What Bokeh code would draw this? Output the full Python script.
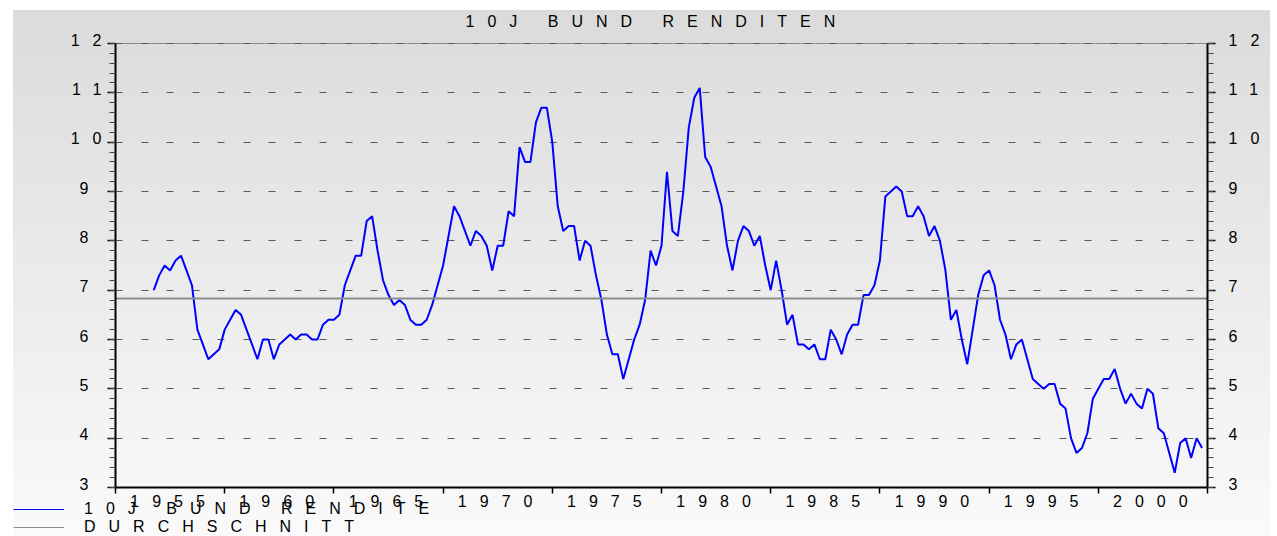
import pandas as pd
from bokeh.plotting import figure
from bokeh.models import Range1d, FixedTicker, LinearAxis, Legend, LegendItem, Grid
from bokeh.embed import file_html
from bokeh.resources import INLINE

# ---------------- data ----------------
title_text = "10J BUND RENDITEN"
series_label = "10J BUND RENDITE"
mean_label = "DURCHSCHNITT"

first_quarter = "1954Q4"          # first quarterly observation
yields = [
    7.0, 7.3, 7.5, 7.4, 7.6, 7.7, 7.4, 7.1, 6.2, 5.9,
    5.6, 5.7, 5.8, 6.2, 6.4, 6.6, 6.5, 6.2, 5.9, 5.6,
    6.0, 6.0, 5.6, 5.9, 6.0, 6.1, 6.0, 6.1, 6.1, 6.0,
    6.0, 6.3, 6.4, 6.4, 6.5, 7.1, 7.4, 7.7, 7.7, 8.4,
    8.5, 7.8, 7.2, 6.9, 6.7, 6.8, 6.7, 6.4, 6.3, 6.3,
    6.4, 6.7, 7.1, 7.5, 8.1, 8.7, 8.5, 8.2, 7.9, 8.2,
    8.1, 7.9, 7.4, 7.9, 7.9, 8.6, 8.5, 9.9, 9.6, 9.6,
    10.4, 10.7, 10.7, 10.0, 8.7, 8.2, 8.3, 8.3, 7.6, 8.0,
    7.9, 7.3, 6.8, 6.1, 5.7, 5.7, 5.2, 5.6, 6.0, 6.3,
    6.8, 7.8, 7.5, 7.9, 9.4, 8.2, 8.1, 9.0, 10.3, 10.9,
    11.1, 9.7, 9.5, 9.1, 8.7, 7.9, 7.4, 8.0, 8.3, 8.2,
    7.9, 8.1, 7.5, 7.0, 7.6, 7.0, 6.3, 6.5, 5.9, 5.9,
    5.8, 5.9, 5.6, 5.6, 6.2, 6.0, 5.7, 6.1, 6.3, 6.3,
    6.9, 6.9, 7.1, 7.6, 8.9, 9.0, 9.1, 9.0, 8.5, 8.5,
    8.7, 8.5, 8.1, 8.3, 8.0, 7.4, 6.4, 6.6, 6.0, 5.5,
    6.2, 6.9, 7.3, 7.4, 7.1, 6.4, 6.1, 5.6, 5.9, 6.0,
    5.6, 5.2, 5.1, 5.0, 5.1, 5.1, 4.7, 4.6, 4.0, 3.7,
    3.8, 4.1, 4.8, 5.0, 5.2, 5.2, 5.4, 5.0, 4.7, 4.9,
    4.7, 4.6, 5.0, 4.9, 4.2, 4.1, 3.7, 3.3, 3.9, 4.0,
    3.6, 4.0, 3.8,
]
year_labels = ["1955", "1960", "1965", "1970", "1975",
               "1980", "1985", "1990", "1995", "2000"]
y_ticks = [3, 4, 5, 6, 7, 8, 9, 10, 11, 12]

# ---------------- derived ----------------
periods = pd.period_range(first_quarter, periods=len(yields), freq="Q")
dates = [pr.year + (pr.quarter - 1) / 4.0 for pr in periods]
mean_value = sum(yields) / len(yields)

y_lo, y_hi = y_ticks[0], y_ticks[-1]
x_start, x_end = 1953, 2003
label_shift = -0.51
label_pos = [int(s) + label_shift for s in year_labels]
segment_marks = list(range(x_start, x_end + 1, 5))
y_minor = [round(y_lo + 0.2 * k, 1) for k in range(46)]

# layout (pixels)
W, H = 1277, 536
FRAME_L, FRAME_R, FRAME_T, FRAME_B = 115, 1207, 43, 487
TOP_PAD_PX = 4                      # room above 12 so its label can sit on its tick
px_per_unit = (FRAME_B - FRAME_T) / (y_hi - y_lo)
top_pad = TOP_PAD_PX / px_per_unit
label_lift = 0.08                   # y labels sit on their tick, like the original
y_label_pos = [t + label_lift for t in y_ticks]

FONT = "Liberation Sans"
FS = "16px"
SPACING = "13px"
BLUE = "#0000ff"
GRAY = "#8c8c8c"
DASH_COLOR = "#5a5a5a"
DASH = "7 19 7 18"

p = figure(width=W, height=H,
           x_range=Range1d(x_start, x_end), y_range=Range1d(y_lo, y_hi + top_pad),
           output_backend="svg", toolbar_location=None,
           min_border_left=FRAME_L, min_border_right=W - FRAME_R,
           min_border_top=FRAME_T - TOP_PAD_PX, min_border_bottom=H - FRAME_B)

p.background_fill_color = None
p.border_fill_color = None
p.outline_line_color = None
p.styles = {
    "background-image": "linear-gradient(to bottom, #dbdbdb, #fafafa)",
    "background-position": "13px 10px",
    "background-size": "1257px calc(100% - 10px)",
    "background-repeat": "no-repeat",
    "letter-spacing": SPACING,
}

# title
p.title.text = title_text
p.title.align = "left"
p.title.offset = 350
p.title.text_font = FONT
p.title.text_font_size = FS
p.title.text_font_style = "normal"
p.title.text_color = "black"
p.title.standoff = 19

# grid: dashed lines, plus a solid grey top border with dashes over it
p.xgrid.visible = False
p.ygrid.ticker = FixedTicker(ticks=y_ticks[1:-1])
p.ygrid.grid_line_color = DASH_COLOR
p.ygrid.grid_line_width = 1
p.ygrid.grid_line_dash = DASH
p.add_layout(Grid(dimension=1, ticker=FixedTicker(ticks=[y_hi]),
                  grid_line_color=GRAY, grid_line_width=1))
p.add_layout(Grid(dimension=1, ticker=FixedTicker(ticks=[y_hi]),
                  grid_line_color=DASH_COLOR, grid_line_width=1,
                  grid_line_dash=DASH))

# series
r_line = p.line(dates, yields, line_color=BLUE, line_width=2)
r_mean = p.hspan(y=[mean_value], line_color=GRAY, line_width=2)


def style_tick_axis(ax):
    ax.ticker = FixedTicker(ticks=y_ticks, minor_ticks=y_minor)
    ax.bounds = (y_lo, y_hi)
    ax.axis_line_color = "black"
    ax.axis_line_width = 2
    ax.major_tick_in = 0
    ax.major_tick_out = 8
    ax.major_tick_line_color = "black"
    ax.major_tick_line_width = 1.5
    ax.minor_tick_in = 0
    ax.minor_tick_out = 6
    ax.minor_tick_line_color = "#444444"
    ax.minor_tick_line_width = 1
    ax.major_label_overrides = {t: "" for t in y_ticks}
    ax.major_label_standoff = 0
    ax.major_label_text_font_size = FS


def make_label_axis(standoff):
    ax = LinearAxis(ticker=FixedTicker(ticks=y_label_pos))
    ax.major_label_overrides = {pos: str(t) for pos, t in zip(y_label_pos, y_ticks)}
    ax.axis_line_color = None
    ax.major_tick_line_color = None
    ax.minor_tick_line_color = None
    ax.major_tick_in = 0
    ax.major_tick_out = 0
    ax.minor_tick_in = 0
    ax.minor_tick_out = 0
    ax.major_label_standoff = standoff
    ax.major_label_text_font = FONT
    ax.major_label_text_font_size = FS
    ax.major_label_text_color = "black"
    return ax


style_tick_axis(p.yaxis[0])
p.add_layout(make_label_axis(19), "left")

right_ticks = LinearAxis()
style_tick_axis(right_ticks)
p.add_layout(right_ticks, "right")
p.add_layout(make_label_axis(13), "right")

xa = p.xaxis[0]
xa.ticker = FixedTicker(ticks=label_pos, minor_ticks=segment_marks)
xa.major_label_overrides = {pos: lab for pos, lab in zip(label_pos, year_labels)}
xa.axis_line_color = "black"
xa.axis_line_width = 2
xa.major_tick_in = 0
xa.major_tick_out = 0
xa.minor_tick_in = 0
xa.minor_tick_out = 6
xa.minor_tick_line_color = "black"
xa.minor_tick_line_width = 1.5
xa.major_label_standoff = 1
xa.major_label_text_font = FONT
xa.major_label_text_font_size = FS
xa.major_label_text_color = "black"

# ---------------- legend strip laid over the bottom-left corner ----------------
LEG_H = 44
q = figure(width=480, height=LEG_H, x_range=Range1d(0, 1), y_range=Range1d(0, 1),
           output_backend="svg", toolbar_location=None,
           x_axis_type=None, y_axis_type=None,
           min_border_left=0, min_border_right=0,
           min_border_top=0, min_border_bottom=0)
q.background_fill_color = None
q.border_fill_color = None
q.outline_line_color = None
q.grid.visible = False
q.styles = {
    "position": "absolute",
    "left": "0px",
    "top": f"{H - LEG_H}px",
    "letter-spacing": SPACING,
}
# legend swatches share the series' styles (data lies outside this strip's ranges)
k_line = q.line(dates, yields, line_color=BLUE, line_width=1)
k_mean = q.hspan(y=[mean_value], line_color=GRAY, line_width=1)

legend = Legend(
    items=[LegendItem(label=series_label, renderers=[k_line]),
           LegendItem(label=mean_label, renderers=[k_mean])],
    location=(13, 0), orientation="vertical",
    background_fill_alpha=0, border_line_alpha=0,
    label_text_font=FONT, label_text_font_size=FS, label_text_color="black",
    glyph_width=51, glyph_height=14, label_height=14,
    label_standoff=20, spacing=-5, padding=0, margin=0,
)
q.add_layout(legend)

open("out.html", "w").write(file_html([p, q], INLINE))
